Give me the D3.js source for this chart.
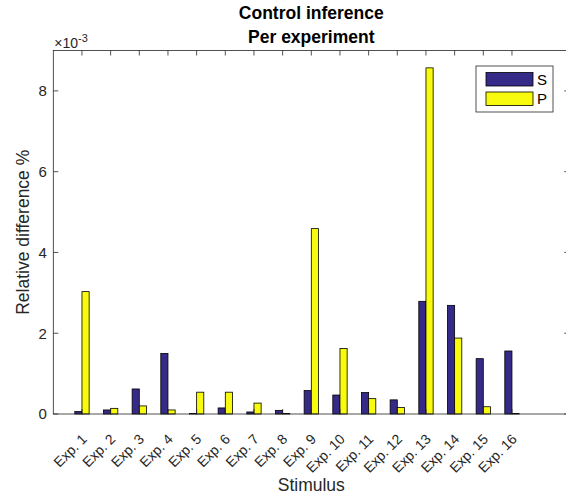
<!DOCTYPE html>
<html>
<head>
<meta charset="utf-8">
<script src="https://cdn.jsdelivr.net/npm/d3@7"></script>
<style>
  html, body { margin: 0; padding: 0; background: #fff; }
  svg { display: block; font-family: "Liberation Sans", Arial, Helvetica, sans-serif; }
</style>
</head>
<body>
<svg id="chart" width="566" height="500"></svg>
<script>
// Relative difference per experiment (values in units of 1e-3)
const categories = ["Exp. 1", "Exp. 2", "Exp. 3", "Exp. 4", "Exp. 5", "Exp. 6", "Exp. 7", "Exp. 8",
                    "Exp. 9", "Exp. 10", "Exp. 11", "Exp. 12", "Exp. 13", "Exp. 14", "Exp. 15", "Exp. 16"];
const seriesNames = ["S", "P"];
const valuesS = [0.06, 0.10, 0.62, 1.50, 0.01, 0.15, 0.05, 0.09, 0.58, 0.47, 0.53, 0.35, 2.79, 2.69, 1.37, 1.56];
const valuesP = [3.03, 0.14, 0.20, 0.10, 0.54, 0.54, 0.27, 0.01, 4.59, 1.62, 0.38, 0.16, 8.57, 1.88, 0.18, 0.01];
const yTicks = [0, 2, 4, 6, 8];
const colors = ["#352a87", "#f9fb0e"];

const svg = d3.select("#chart");
const axisColor = "#262626";

const margin = { left: 53.3, top: 50.5, bottom: 414 };
const x = d3.scaleLinear().domain([0, 18]).range([margin.left, 569.3]);
const y = d3.scaleLinear().domain([0, 9]).range([margin.bottom, margin.top]);

const groupWidth = 0.5;     // in category units
const barW = groupWidth / seriesNames.length;

// Bars
const series = [valuesS, valuesP];
series.forEach((vals, si) => {
  svg.append("g")
    .selectAll("rect")
    .data(vals)
    .join("rect")
    .attr("x", (d, i) => x(i + 1 - groupWidth / 2 + si * barW))
    .attr("width", x(barW) - x(0))
    .attr("y", d => y(d))
    .attr("height", d => y(0) - y(d))
    .attr("fill", colors[si])
    .attr("stroke", "#000")
    .attr("stroke-width", 0.8);
});

// Axes box
const xr = x.range(), yr = y.range();
const tickLen = 5;
const g = svg.append("g").attr("stroke", axisColor).attr("stroke-width", 0.8).attr("fill", "none");
g.append("rect").attr("x", xr[0]).attr("y", yr[1]).attr("width", xr[1] - xr[0]).attr("height", yr[0] - yr[1]);

// Bottom + top ticks (inward)
const xTickPos = categories.map((c, i) => i + 1);
xTickPos.forEach(t => {
  g.append("line").attr("x1", x(t)).attr("x2", x(t)).attr("y1", yr[0]).attr("y2", yr[0] - tickLen);
  g.append("line").attr("x1", x(t)).attr("x2", x(t)).attr("y1", yr[1]).attr("y2", yr[1] + tickLen);
});
// Left + right ticks (inward)
yTicks.forEach(t => {
  g.append("line").attr("x1", xr[0]).attr("x2", xr[0] + tickLen).attr("y1", y(t)).attr("y2", y(t));
  g.append("line").attr("x1", xr[1]).attr("x2", xr[1] - tickLen).attr("y1", y(t)).attr("y2", y(t));
});

// Y tick labels
svg.append("g").selectAll("text").data(yTicks).join("text")
  .attr("x", xr[0] - 6.5).attr("y", d => y(d)).attr("dy", "0.36em")
  .attr("text-anchor", "end").attr("font-size", 15).attr("fill", axisColor)
  .text(d => d);

// Exponent
const ex = svg.append("text").attr("x", xr[0] + 1).attr("y", 47.5).attr("font-size", 14).attr("fill", axisColor);
ex.append("tspan").text("\u00d710");
ex.append("tspan").attr("dy", -6).attr("font-size", 11).text("-3");

// X tick labels rotated 45°
svg.append("g").selectAll("text").data(categories).join("text")
  .attr("transform", (d, i) => `translate(${x(i + 1) + 5.7},${yr[0] + 26}) rotate(-45)`)
  .attr("text-anchor", "end").attr("font-size", 14).attr("fill", axisColor)
  .text(d => d);

// Axis titles
svg.append("text").attr("x", (xr[0] + xr[1]) / 2).attr("y", 491)
  .attr("text-anchor", "middle").attr("font-size", 17.5).attr("fill", axisColor).text("Stimulus");
svg.append("text").attr("transform", `translate(29,${(yr[0] + yr[1]) / 2}) rotate(-90)`)
  .attr("text-anchor", "middle").attr("font-size", 17.5).attr("fill", axisColor).text("Relative difference %");

// Title
svg.append("text").attr("x", (xr[0] + xr[1]) / 2).attr("y", 19)
  .attr("text-anchor", "middle").attr("font-size", 17.5).attr("font-weight", "bold").attr("fill", "#000")
  .text("Control inference");
svg.append("text").attr("x", (xr[0] + xr[1]) / 2).attr("y", 42.5)
  .attr("text-anchor", "middle").attr("font-size", 17.5).attr("font-weight", "bold").attr("fill", "#000")
  .text("Per experiment");

// Legend
const lg = svg.append("g");
lg.append("rect").attr("x", 476).attr("y", 66).attr("width", 77).attr("height", 46)
  .attr("fill", "#fff").attr("stroke", axisColor).attr("stroke-width", 0.8);
seriesNames.forEach((name, i) => {
  lg.append("rect").attr("x", 486).attr("y", 72.5 + i * 19.5).attr("width", 47).attr("height", 13.5)
    .attr("fill", colors[i]).attr("stroke", "#000").attr("stroke-width", 0.8);
  lg.append("text").attr("x", 537).attr("y", 79.5 + i * 19.5).attr("dy", "0.36em")
    .attr("font-size", 15).attr("fill", "#000").text(name);
});
</script>
</body>
</html>
